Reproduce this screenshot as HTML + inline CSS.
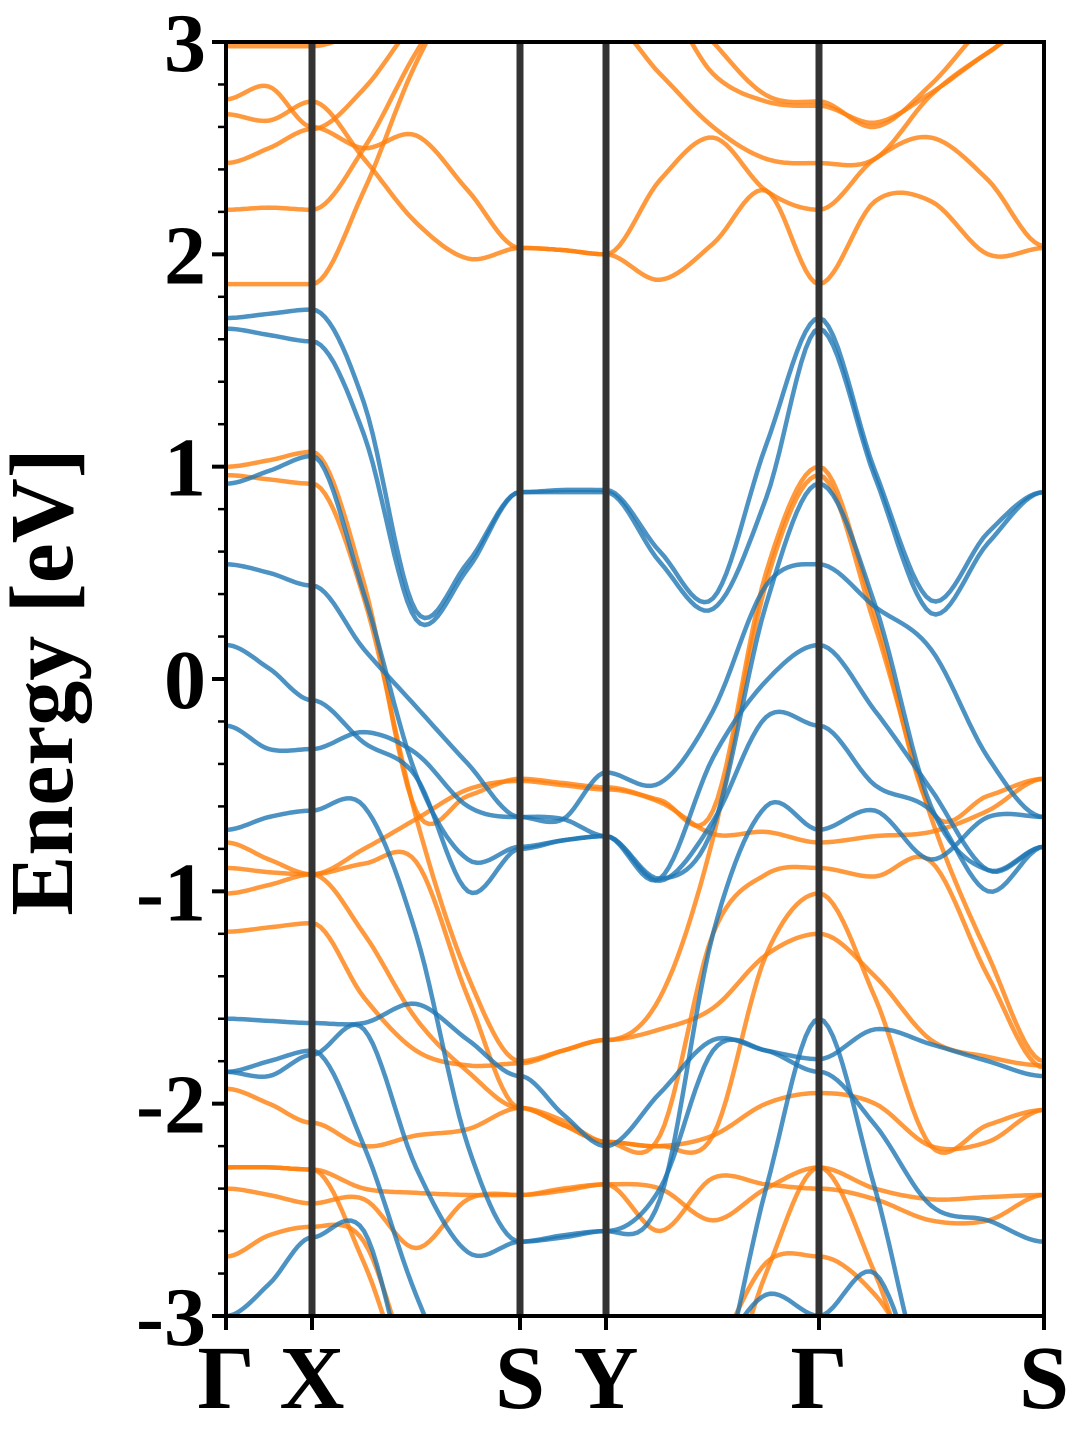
<!DOCTYPE html>
<html><head><meta charset="utf-8"><style>
html,body{margin:0;padding:0;background:#fff;}
svg{display:block;}
text{font-family:"Liberation Serif",serif;font-weight:bold;fill:#000;}
</style></head><body>
<svg id="chart" width="1080" height="1440" viewBox="0 0 1080 1440" xmlns="http://www.w3.org/2000/svg">
<defs><clipPath id="plotclip"><rect x="226" y="42" width="818" height="1274"/></clipPath></defs>
<g id="bands" clip-path="url(#plotclip)"></g>
<g id="vlines"></g>
<rect x="226" y="42" width="818" height="1274" fill="none" stroke="#000" stroke-width="4"/>
<g id="yaxis"></g>
<g id="xaxis"></g>
<text x="72" y="682" font-size="90" text-anchor="middle" transform="rotate(-90 72 682)">Energy [eV]</text>
</svg>
<script>
// k-path coordinates (path length units) of sample points
const kSamples = [0,0.43,0.86,1.38,1.90,2.42,2.94,3.37,3.80,4.34,4.87,5.40,5.93,6.49,7.05,7.62,8.18];
const symIdx = [0,2,6,8,12,16];
const symLabels = ["Γ","X","S","Y","Γ","S"];
const yTicks = [3,2,1,0,-1,-2,-3];
const yTickLabels = ["3","2","1","0","-1","-2","-3"];
const blueBands = [
 [1.70,1.72,1.74,1.30,0.32,0.55,0.88,0.89,0.89,0.60,0.38,1.10,1.70,0.98,0.37,0.69,0.88],
 [1.65,1.62,1.59,1.15,0.28,0.52,0.88,0.88,0.88,0.55,0.33,0.85,1.65,0.95,0.31,0.64,0.88],
 [0.92,0.98,1.05,0.40,-0.45,-0.85,-0.79,-0.76,-0.74,-0.94,-0.70,0.35,0.92,0.35,-0.60,-0.90,-0.79],
 [0.54,0.50,0.44,0.14,-0.13,-0.40,-0.65,-0.66,-0.44,-0.49,-0.15,0.44,0.54,0.34,0.14,-0.37,-0.65],
 [0.16,0.05,-0.10,-0.30,-0.46,-1.00,-0.80,-0.76,-0.74,-0.94,-0.37,-0.01,0.16,-0.15,-0.52,-0.90,-0.79],
 [-0.22,-0.33,-0.33,-0.25,-0.35,-0.60,-0.65,-0.66,-0.74,-0.95,-0.67,-0.18,-0.22,-0.50,-0.62,-1.00,-0.79],
 [-0.71,-0.65,-0.62,-0.60,-1.20,-2.20,-2.65,-2.63,-2.60,-2.45,-1.20,-0.60,-0.71,-0.62,-0.85,-0.65,-0.65],
 [-1.60,-1.61,-1.62,-1.62,-1.53,-1.70,-1.87,-2.05,-2.20,-1.95,-1.70,-1.75,-1.79,-1.65,-1.72,-1.80,-1.87],
 [-1.85,-1.80,-1.75,-2.20,-2.90,-3.40,-3.40,-3.40,-3.40,-3.40,-3.40,-2.40,-1.60,-2.40,-3.40,-3.40,-3.40],
 [-1.85,-1.87,-1.77,-1.65,-2.30,-2.70,-2.65,-2.62,-2.60,-2.40,-1.75,-1.75,-1.85,-2.10,-2.48,-2.55,-2.65],
 [-3.00,-2.85,-2.63,-2.60,-3.40,-3.40,-3.40,-3.40,-3.40,-3.40,-3.20,-2.90,-3.00,-2.80,-3.40,-3.40,-3.40]
];
const orangeBands = [
 [2.98,2.98,2.98,3.05,3.10,3.05,3.02,3.05,3.10,3.20,2.85,2.72,2.70,2.62,2.76,2.95,3.10],
 [2.73,2.79,2.60,2.50,2.56,2.30,2.03,2.02,2.00,2.35,2.55,2.30,2.21,2.45,2.55,2.35,2.04],
 [2.66,2.63,2.72,2.45,2.15,1.98,2.03,2.02,2.00,1.88,2.05,2.30,1.86,2.25,2.25,2.00,2.03],
 [2.43,2.50,2.59,2.78,3.10,3.30,3.30,3.30,3.10,2.85,2.60,2.45,2.43,2.45,2.75,2.95,3.10],
 [2.21,2.22,2.21,2.50,2.95,3.30,3.30,3.30,3.30,3.30,3.00,2.75,2.72,2.60,2.80,3.10,3.30],
 [1.86,1.86,1.86,2.30,2.90,3.30,3.30,3.30,3.30,3.30,3.30,3.30,3.30,3.30,3.30,3.30,3.30],
 [1.00,1.03,1.07,0.45,-0.62,-0.55,-0.47,-0.49,-0.51,-0.57,-0.62,0.50,1.00,0.30,-0.62,-0.55,-0.47],
 [0.96,0.94,0.92,0.38,-0.65,-1.40,-1.80,-1.75,-1.70,-1.50,-0.75,0.45,0.96,0.25,-0.65,-1.30,-1.80],
 [-0.77,-0.85,-0.92,-0.80,-0.66,-0.52,-0.48,-0.50,-0.52,-0.58,-0.73,-0.72,-0.77,-0.74,-0.72,-0.62,-0.47],
 [-0.89,-0.91,-0.92,-0.87,-0.86,-1.50,-2.02,-2.10,-2.18,-2.15,-1.20,-0.92,-0.89,-0.93,-0.86,-1.40,-1.83],
 [-1.01,-0.97,-0.92,-1.20,-1.60,-1.85,-2.02,-2.10,-2.18,-2.20,-2.15,-1.30,-1.01,-1.50,-2.20,-2.10,-2.03],
 [-1.19,-1.17,-1.15,-1.50,-1.75,-1.82,-1.81,-1.75,-1.70,-1.65,-1.55,-1.30,-1.20,-1.40,-1.70,-1.78,-1.82],
 [-1.93,-2.00,-2.09,-2.20,-2.15,-2.12,-2.02,-2.08,-2.18,-2.20,-2.15,-2.00,-1.95,-2.00,-2.20,-2.18,-2.03],
 [-2.30,-2.30,-2.31,-2.40,-2.42,-2.43,-2.43,-2.41,-2.38,-2.40,-2.55,-2.40,-2.30,-2.40,-2.45,-2.44,-2.43],
 [-2.40,-2.43,-2.47,-2.45,-2.68,-2.45,-2.43,-2.40,-2.38,-2.60,-2.35,-2.38,-2.40,-2.45,-2.55,-2.55,-2.43],
 [-2.72,-2.62,-2.58,-2.65,-3.30,-3.50,-3.50,-3.50,-3.50,-3.50,-3.20,-2.75,-2.72,-2.90,-3.30,-3.50,-3.50],
 [-2.30,-2.30,-2.31,-2.75,-3.40,-3.50,-3.50,-3.50,-3.50,-3.50,-3.50,-2.80,-2.30,-2.80,-3.50,-3.50,-3.50]
];

const X0=226,X1=1044,Y0=42,Y1=1316,EMAX=3,EMIN=-3;
const kMax = kSamples[kSamples.length-1];
function xs(k){return X0+(k/kMax)*(X1-X0);}
function ys(e){return Y0+(EMAX-e)/(EMAX-EMIN)*(Y1-Y0);}
const NS="http://www.w3.org/2000/svg";

function bandPath(vals){
  const n=vals.length, t=[];
  for(let i=0;i<n;i++){
    if(symIdx.includes(i)){t.push(0);continue;}
    t.push((vals[i+1]-vals[i-1])/(kSamples[i+1]-kSamples[i-1]));
  }
  let d="M"+xs(kSamples[0]).toFixed(1)+","+ys(vals[0]).toFixed(1);
  for(let i=0;i<n-1;i++){
    const h=kSamples[i+1]-kSamples[i];
    for(let s=1;s<=12;s++){
      const u=s/12,u2=u*u,u3=u2*u;
      const v=(2*u3-3*u2+1)*vals[i]+(u3-2*u2+u)*h*t[i]+(-2*u3+3*u2)*vals[i+1]+(u3-u2)*h*t[i+1];
      d+=" L"+xs(kSamples[i]+u*h).toFixed(1)+","+ys(v).toFixed(1);
    }
  }
  return d;
}
const gB=document.getElementById("bands");
function drawBands(list,color,prefix){
  list.forEach((vals,i)=>{
    const p=document.createElementNS(NS,"path");
    p.setAttribute("d",bandPath(vals));
    p.setAttribute("fill","none");
    p.setAttribute("stroke",color);
    p.setAttribute("stroke-opacity","0.8");
    p.setAttribute("stroke-width","4.5");
    
    
    gB.appendChild(p);
  });
}
drawBands(orangeBands,"#ff7f0e","spin-down");
drawBands(blueBands,"#1f77b4","spin-up");

const gV=document.getElementById("vlines"), gX=document.getElementById("xaxis");
symIdx.forEach((idx,j)=>{
  const x=xs(kSamples[idx]);
  if(j>0&&j<symIdx.length-1){
    const l=document.createElementNS(NS,"line");
    l.setAttribute("x1",x);l.setAttribute("x2",x);l.setAttribute("y1",Y0);l.setAttribute("y2",Y1);
    l.setAttribute("stroke","#333");l.setAttribute("stroke-width","7");
    
    
    gV.appendChild(l);
  }
  const tk=document.createElementNS(NS,"line");
  tk.setAttribute("x1",x);tk.setAttribute("x2",x);tk.setAttribute("y1",Y1);tk.setAttribute("y2",Y1+14);
  tk.setAttribute("stroke","#000");tk.setAttribute("stroke-width","4");
  
  
  gX.appendChild(tk);
  const t=document.createElementNS(NS,"text");
  t.setAttribute("x",x);t.setAttribute("y",1408);t.setAttribute("font-size","90");t.setAttribute("text-anchor","middle");
  t.textContent=symLabels[j];
  
  
  gX.appendChild(t);
});

const gY=document.getElementById("yaxis");
for(let m=-30;m<=30;m+=2){
  const e=m/10, y=ys(e), major=(m%10===0);
  const l=document.createElementNS(NS,"line");
  l.setAttribute("x1",X0-(major?14:8));l.setAttribute("x2",X0);l.setAttribute("y1",y);l.setAttribute("y2",y);
  l.setAttribute("stroke","#000");l.setAttribute("stroke-width",major?"4":"2.5");
  
  
  gY.appendChild(l);
}
yTicks.forEach((v,i)=>{
  const t=document.createElementNS(NS,"text");
  t.setAttribute("x",206);t.setAttribute("y",ys(v)+29);t.setAttribute("font-size","84");t.setAttribute("text-anchor","end");
  t.textContent=yTickLabels[i];
  
  
  gY.appendChild(t);
});
</script>
</body></html>
